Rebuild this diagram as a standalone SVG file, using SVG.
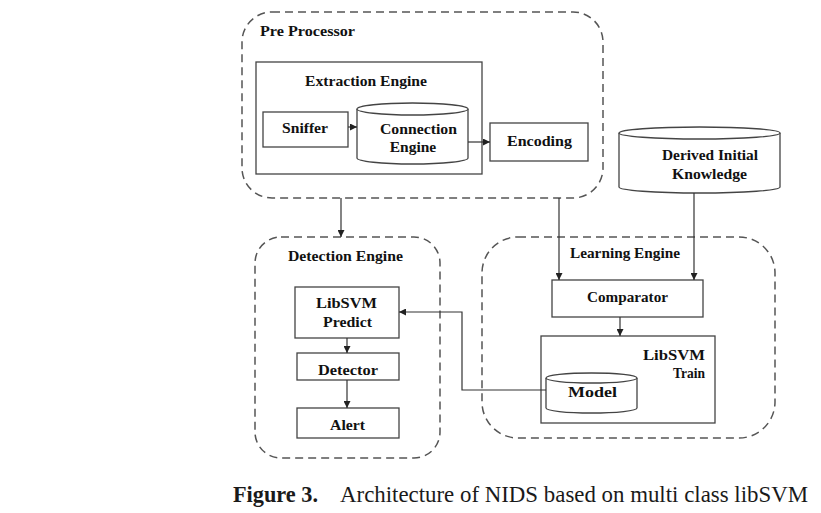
<svg xmlns="http://www.w3.org/2000/svg" width="821" height="513" viewBox="0 0 821 513">
<defs>
<style>
.bg{fill:#ffffff}
.grp{fill:none;stroke:#555;stroke-width:1.5;stroke-dasharray:8 5}
.box{fill:#fff;stroke:#444;stroke-width:1.3}
.cyl{fill:#fff;stroke:#444;stroke-width:1.3}
.lbl{font-family:"Liberation Serif","Times New Roman",serif;font-weight:bold;font-size:15.5px;fill:#111}
.mid{text-anchor:middle}
.end{text-anchor:end}
.con{fill:none;stroke:#333;stroke-width:1.2}
.cap{font-family:"Liberation Serif","Times New Roman",serif;font-size:22.5px;fill:#1a1a1a}
</style>
<marker id="ah" viewBox="0 0 10 10" refX="10" refY="5" markerWidth="7" markerHeight="7" orient="auto" markerUnits="userSpaceOnUse">
<path d="M0,0 L10,5 L0,10 z" fill="#222"/>
</marker>
</defs>
<rect class="bg" x="0" y="0" width="821" height="513"/>

<g id="preprocessor">
<rect class="grp" x="242" y="12" width="361" height="186" rx="30" ry="30"/>
<text class="lbl" x="260" y="36" textLength="95" lengthAdjust="spacingAndGlyphs">Pre Processor</text>
</g>

<g id="extraction-engine">
<rect class="box" x="256" y="62" width="226" height="112"/>
<text class="lbl" x="305" y="86" textLength="122" lengthAdjust="spacingAndGlyphs">Extraction Engine</text>
</g>

<g id="sniffer">
<rect class="box" x="263" y="112" width="85" height="35"/>
<text class="lbl" x="282" y="133" textLength="46" lengthAdjust="spacingAndGlyphs">Sniffer</text>
</g>

<g id="connection-engine">
<path class="cyl" d="M357,109 A55.5,6 0 0 1 468,109 L468,158 A55.5,6 0 0 1 357,158 Z"/>
<path class="cyl" d="M357,109 A55.5,6 0 0 0 468,109" fill="none"/>
<text class="lbl" x="380" y="134" textLength="77" lengthAdjust="spacingAndGlyphs">Connection</text>
<text class="lbl mid" x="413" y="152">Engine</text>
</g>

<g id="encoding">
<rect class="box" x="490" y="123" width="98" height="38"/>
<text class="lbl" x="507" y="146" textLength="65" lengthAdjust="spacingAndGlyphs">Encoding</text>
</g>

<g id="derived-knowledge">
<path class="cyl" d="M619,133 A80.5,6 0 0 1 780,133 L780,187 A80.5,6 0 0 1 619,187 Z"/>
<path class="cyl" d="M619,133 A80.5,6 0 0 0 780,133" fill="none"/>
<text class="lbl" x="662" y="160" textLength="96" lengthAdjust="spacingAndGlyphs">Derived Initial</text>
<text class="lbl" x="672" y="179" textLength="75" lengthAdjust="spacingAndGlyphs">Knowledge</text>
</g>

<g id="detection-engine">
<rect class="grp" x="255" y="237" width="185" height="221" rx="26" ry="26"/>
<text class="lbl" x="288" y="261" textLength="115" lengthAdjust="spacingAndGlyphs">Detection Engine</text>
</g>

<g id="libsvm-predict">
<rect class="box" x="295" y="287" width="104" height="51"/>
<text class="lbl" x="316" y="308" textLength="61" lengthAdjust="spacingAndGlyphs">LibSVM</text>
<text class="lbl" x="323" y="327" textLength="49" lengthAdjust="spacingAndGlyphs">Predict</text>
</g>

<g id="detector">
<rect class="box" x="297" y="353" width="102" height="27"/>
<text class="lbl" x="318" y="375" textLength="60" lengthAdjust="spacingAndGlyphs">Detector</text>
</g>

<g id="alert">
<rect class="box" x="297" y="408" width="102" height="30"/>
<text class="lbl" x="330" y="430" textLength="35" lengthAdjust="spacingAndGlyphs">Alert</text>
</g>

<g id="learning-engine">
<rect class="grp" x="482" y="237" width="293" height="201" rx="36" ry="36"/>
<text class="lbl" x="570" y="258" textLength="110" lengthAdjust="spacingAndGlyphs">Learning Engine</text>
</g>

<g id="comparator">
<rect class="box" x="552" y="280" width="151" height="37"/>
<text class="lbl" x="587" y="302" textLength="81" lengthAdjust="spacingAndGlyphs">Comparator</text>
</g>

<g id="libsvm-train">
<rect class="box" x="541" y="336" width="174" height="87"/>
<text class="lbl" x="643" y="360" textLength="62" lengthAdjust="spacingAndGlyphs">LibSVM</text>
<text class="lbl" x="673" y="378" textLength="32" lengthAdjust="spacingAndGlyphs">Train</text>
</g>

<g id="model">
<path class="cyl" d="M546,378 A45.5,5 0 0 1 637,378 L637,408 A45.5,5 0 0 1 546,408 Z"/>
<path class="cyl" d="M546,378 A45.5,5 0 0 0 637,378" fill="none"/>
<text class="lbl" x="568" y="397" textLength="49" lengthAdjust="spacingAndGlyphs">Model</text>
</g>

<g id="connectors">
<line class="con" x1="348" y1="127" x2="357" y2="127" marker-end="url(#ah)"/>
<line class="con" x1="468" y1="142" x2="490" y2="142" marker-end="url(#ah)"/>
<line class="con" x1="341" y1="198" x2="341" y2="237" marker-end="url(#ah)"/>
<line class="con" x1="559" y1="198" x2="559" y2="280" marker-end="url(#ah)"/>
<line class="con" x1="694" y1="193" x2="694" y2="280" marker-end="url(#ah)"/>
<line class="con" x1="620" y1="317" x2="620" y2="336" marker-end="url(#ah)"/>
<line class="con" x1="347" y1="338" x2="347" y2="353" marker-end="url(#ah)"/>
<line class="con" x1="347" y1="380" x2="347" y2="408" marker-end="url(#ah)"/>
<polyline class="con" points="546,390 462,390 462,312 399,312" marker-end="url(#ah)"/>
</g>

<g id="caption">
<text class="cap" x="233" y="502" font-weight="bold" textLength="85" lengthAdjust="spacingAndGlyphs">Figure 3.</text>
<text class="cap" x="340" y="502" textLength="468" lengthAdjust="spacingAndGlyphs">Architecture of NIDS based on multi class libSVM</text>
</g>
</svg>
